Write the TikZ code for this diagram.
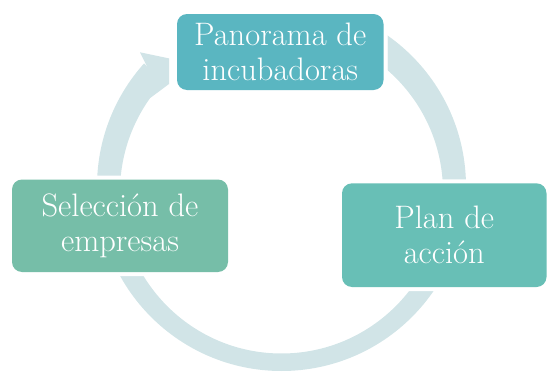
\documentclass[tikz,border=0pt]{standalone}
\usepackage{fontspec}
\definecolor{topc}{RGB}{90,182,193}
\definecolor{rightc}{RGB}{104,191,182}
\definecolor{leftc}{RGB}{118,190,168}
\definecolor{ringc}{RGB}{209,228,231}
\tikzset{
  cyclebox/.style={rectangle, rounded corners=10pt, inner sep=0pt, align=center,
    text=white, font=\fontsize{32.5}{35}\selectfont,
    preaction={draw=white, line width=8pt}},
}
\begin{document}
\begin{tikzpicture}[x=1pt,y=-1pt]
\useasboundingbox (0,0) rectangle (547,372);
% ring
\fill[ringc, even odd rule] (281.5,186.5) circle[radius=184.5pt] (281.5,192) circle[radius=161.5pt];
% remove the ring past the arrow head and under the top box
\fill[white] (146.7,65.7) -- (124,45.4) -- (124,0) -- (387.3,0) -- (387.3,95) -- (150.2,98) -- cycle;
% arrow head
\fill[ringc] (146.7,65.7) -- (140,52.3) -- (169,58.4) -- (169,84) -- (150.2,98) -- (135,100) -- cycle;
% boxes
\node[cyclebox, fill=topc, minimum width=206.5pt, minimum height=76pt] (top) at (280.25,52) {Panorama de\\incubadoras};
\node[cyclebox, fill=leftc, minimum width=216pt, minimum height=92.5pt] (left) at (120,225.75) {Selección de\\empresas};
\node[cyclebox, fill=rightc, minimum width=204.5pt, minimum height=103.7pt] (right) at (444.25,235.15) {Plan de\\acción};
\end{tikzpicture}
\end{document}
